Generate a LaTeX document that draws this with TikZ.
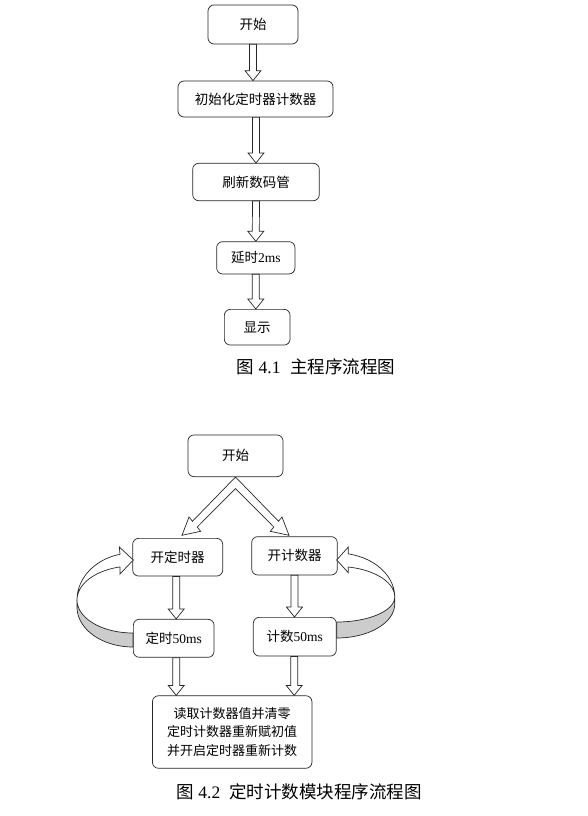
\documentclass[tikz,border=0pt]{standalone}
\usepackage{fontspec}
\setmainfont{Liberation Serif}
\newfontfamily\cjk{Noto Sans CJK SC}
\usetikzlibrary{calc}
\begin{document}
\begin{tikzpicture}[x=1pt,y=-1pt,
  box/.style={draw=black!85, line width=0.7pt, rounded corners=6pt, fill=white,
    inner sep=0pt, align=center, font=\cjk\fontsize{13.5}{18.7}\selectfont},
  bigbox/.style={box, font=\cjk\fontsize{13}{18.7}\selectfont},
  hollow/.style={draw=black!85, line width=0.7pt, fill=white,
    to path={($(\tikztostart)+(-3.5,0)$) -- ($(\tikztotarget)+(-3.5,-10)$)
      -- ($(\tikztotarget)+(-8,-10)$) -- (\tikztotarget)
      -- ($(\tikztotarget)+(8,-10)$) -- ($(\tikztotarget)+(3.5,-10)$)
      -- ($(\tikztostart)+(3.5,0)$) -- cycle}},
  blockline/.style={draw=black!85, line width=0.7pt, fill=white},
  backband/.style={draw=black!85, line width=0.7pt, fill=gray!40},
  captext/.style={inner sep=0pt, font=\fontsize{17.5}{20}\selectfont}
]
\useasboundingbox (0,0) rectangle (587,816);

% ---------- Figure 4.1 ----------
\node[box, minimum width=90pt, minimum height=39pt] (s1) at (253,24.5) {开始};
\node[box, minimum width=155pt, minimum height=36pt] (i1) at (255.5,99) {初始化定时器计数器};
\node[box, minimum width=126.6pt, minimum height=37.4pt] (r1) at (256,182) {刷新数码管};
\node[box, minimum width=78.3pt, minimum height=32.3pt] (d1) at (255.8,257.8) {延时{\rmfamily 2ms}};
\node[box, minimum width=65.7pt, minimum height=35.7pt] (x1) at (257.2,327.2) {显示};

\coordinate (a1) at (s1.south |- i1.north);
\coordinate (a2) at (r1.north);
\coordinate (a2s) at (r1.north |- i1.south);
\coordinate (a3) at (d1.north);
\coordinate (a4) at (d1.south |- x1.north);
\draw[hollow] (s1.south) to (a1);
\draw[hollow] (a2s) to (a2);
\draw[hollow] (r1.south) to (a3);
\draw[hollow] (d1.south) to (a4);

\node[captext] (cap1) at (316,367) {{\cjk 图} 4.1\hspace{0.55em}{\cjk 主程序流程图}};

% ---------- Figure 4.2 ----------
\node[box, minimum width=95pt, minimum height=41.7pt] (s2) at (235.5,455.8) {开始};
\node[box, minimum width=90pt, minimum height=37.7pt] (t1) at (177.7,557.2) {开定时器};
\node[box, minimum width=85.6pt, minimum height=38.3pt] (c1) at (294.5,555.8) {开计数器};
\node[box, minimum width=80.7pt, minimum height=38pt] (t2) at (173.7,638.3) {定时{\rmfamily 50ms}};
\node[box, minimum width=83pt, minimum height=38.7pt] (c2) at (294.8,636.7) {计数{\rmfamily 50ms}};
\node[bigbox, minimum width=159.5pt, minimum height=72.5pt] (big) at (232.2,732)
  {读取计数器值并清零\\定时计数器重新赋初值\\并开启定时器重新计数};

% split arrow from start
\coordinate (o) at (s2.south);
\draw[blockline] (o) -- ($(o)+(-43,44.25)$) -- ($(o)+(-46.5,40)$) -- ($(o)+(-53.5,58.3)$)
  -- ($(o)+(-34.8,54.3)$) -- ($(o)+(-38.3,50.05)$) -- ($(o)+(0,11.6)$)
  -- ($(o)+(38.3,50.05)$) -- ($(o)+(34.8,54.3)$) -- ($(o)+(53.5,58.3)$)
  -- ($(o)+(46.5,40)$) -- ($(o)+(43,44.25)$) -- cycle;

% vertical arrows
\coordinate (b1) at ($(t1.south)+(-1.5,0)$);
\coordinate (b1e) at (b1 |- t2.north);
\coordinate (b2) at (c1.south);
\coordinate (b2e) at (c1.south |- c2.north);
\coordinate (b3) at ($(t2.south)+(2.5,0)$);
\coordinate (b3e) at (b3 |- big.north);
\coordinate (b4) at ($(c2.south)+(-0.6,0)$);
\coordinate (b4e) at (b4 |- big.north);
\draw[hollow] (b1) to (b1e);
\draw[hollow] (b2) to (b2e);
\draw[hollow] (b3) to (b3e);
\draw[hollow] (b4) to (b4e);

% left curved arrow (timer loop)
\draw[backband] plot[domain=180:270, samples=40, variable=\t] ({133+56*cos(\t)},{607-40*sin(\t)})
  -- plot[domain=270:180, samples=40, variable=\t] ({133+56*cos(\t)},{600-33*sin(\t)}) -- cycle;
\draw[blockline] plot[domain=180:103.4, samples=40, variable=\t] ({133+56*cos(\t)},{600-47*sin(\t)})
  -- (119.3,547) -- (133.3,560) -- (120,574)
  -- plot[domain=103.4:180, samples=40, variable=\t] ({133+56*cos(\t)},{600-34*sin(\t)}) -- cycle;

% right curved arrow (counter loop)
\draw[backband] plot[domain=0:-90, samples=40, variable=\t] ({336.7+58*cos(\t)},{604-34*sin(\t)})
  -- plot[domain=-90:0, samples=40, variable=\t] ({336.7+58*cos(\t)},{597-25*sin(\t)}) -- cycle;
\draw[blockline] plot[domain=0:78.5, samples=40, variable=\t] ({336.7+58*cos(\t)},{597-44*sin(\t)})
  -- (348.3,547) -- (336.7,560) -- (348.3,572.7)
  -- plot[domain=78.5:0, samples=40, variable=\t] ({336.7+58*cos(\t)},{597-30.6*sin(\t)}) -- cycle;

\node[captext] (cap2) at (299,791.7) {{\cjk 图} 4.2\hspace{0.5em}{\cjk 定时计数模块程序流程图}};
\end{tikzpicture}
\end{document}
